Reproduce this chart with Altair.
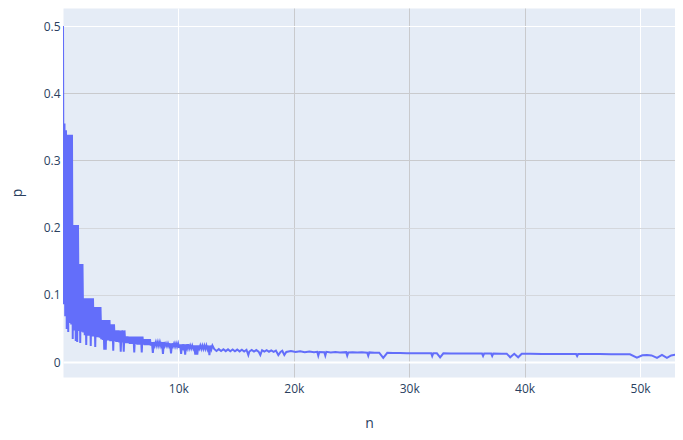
import altair as alt
import pandas as pd

# ---- data ----
n_values = [
    2, 65, 130, 195, 260, 325, 390, 455, 520, 585, 650, 715, 780, 845, 910, 975,
    1040, 1105, 1170, 1235, 1300, 1365, 1430, 1495, 1560, 1625, 1690, 1755, 1820,
    1885, 1950, 2015, 2080, 2145, 2210, 2275, 2340, 2405, 2470, 2535, 2600, 2665,
    2730, 2795, 2860, 2925, 2990, 3055, 3120, 3185, 3250, 3315, 3380, 3445, 3510,
    3575, 3640, 3705, 3770, 3835, 3900, 3965, 4030, 4095, 4160, 4225, 4290, 4355,
    4420, 4485, 4550, 4615, 4680, 4745, 4810, 4875, 4940, 5005, 5070, 5135, 5200,
    5265, 5330, 5395, 5460, 5525, 5590, 5655, 5720, 5785, 5850, 5915, 5980, 6045,
    6110, 6175, 6240, 6305, 6370, 6435, 6500, 6565, 6630, 6695, 6760, 6825, 6890,
    6955, 7020, 7085, 7150, 7215, 7280, 7345, 7410, 7475, 7540, 7605, 7700, 7787,
    7875, 7962, 8050, 8137, 8225, 8312, 8400, 8487, 8575, 8662, 8750, 8837, 8925,
    9012, 9100, 9187, 9275, 9362, 9450, 9537, 9625, 9712, 9800, 9887, 9975, 10062,
    10150, 10237, 10325, 10412, 10500, 10587, 10675, 10762, 10850, 10937, 11025,
    11112, 11200, 11287, 11375, 11462, 11550, 11637, 11725, 11812, 11900, 11987,
    12075, 12162, 12250, 12337, 12425, 12512, 12600, 12687, 12775, 12862, 12950,
    13100, 13300, 13500, 13700, 13900, 14100, 14300, 14500, 14700, 14900, 15100,
    15300, 15500, 15700, 15900, 16060, 16150, 16350, 16550, 16750, 16950, 17100,
    17250, 17450, 17650, 17850, 18050, 18250, 18450, 18660, 18850, 19000, 19180,
    19350, 19750, 20150, 20550, 20950, 21350, 21750, 22030, 22120, 22210, 22640,
    22730, 22820, 23200, 23600, 24000, 24540, 24630, 24720, 25100, 25500, 25900,
    26360, 26450, 26540, 27000, 27400, 27750, 28100, 28600, 29200, 29800, 30500,
    31200, 31900, 31990, 32080, 32400, 32680, 32960, 33600, 34300, 35000, 35700,
    36310, 36400, 36490, 37100, 37190, 37280, 38000, 38450, 38750, 39100, 39440,
    39750, 40500, 41500, 42500, 43500, 44460, 44550, 44640, 45500, 46500, 47500,
    48500, 49130, 49730, 50200, 50600, 51000, 51470, 51900, 52330, 52700, 53020,
    53400, 53700,
]
p_values = [
    0.5, 0.086, 0.355, 0.068, 0.345, 0.049, 0.338, 0.0446, 0.338, 0.058, 0.338,
    0.056, 0.338, 0.0342, 0.204, 0.047, 0.204, 0.0312, 0.204, 0.0298, 0.204,
    0.046, 0.146, 0.0283, 0.146, 0.045, 0.146, 0.044, 0.095, 0.040, 0.095,
    0.0253, 0.095, 0.039, 0.095, 0.039, 0.095, 0.0238, 0.095, 0.038, 0.095,
    0.038, 0.082, 0.0223, 0.082, 0.037, 0.082, 0.037, 0.082, 0.036, 0.082,
    0.034, 0.0625, 0.033, 0.0625, 0.0183, 0.0625, 0.0183, 0.0625, 0.032, 0.0625,
    0.032, 0.0625, 0.031, 0.056, 0.031, 0.056, 0.0168, 0.056, 0.031, 0.047,
    0.030, 0.047, 0.030, 0.047, 0.029, 0.047, 0.0153, 0.047, 0.029, 0.047,
    0.0153, 0.047, 0.028, 0.038, 0.028, 0.038, 0.028, 0.038, 0.027, 0.038,
    0.027, 0.038, 0.027, 0.038, 0.0144, 0.038, 0.027, 0.038, 0.026, 0.038,
    0.026, 0.038, 0.026, 0.038, 0.0144, 0.038, 0.026, 0.034, 0.025, 0.034,
    0.025, 0.034, 0.025, 0.034, 0.025, 0.034, 0.0245, 0.0298, 0.0134, 0.0298,
    0.0245, 0.0298, 0.024, 0.0298, 0.024, 0.0298, 0.024, 0.0298, 0.0119, 0.0298,
    0.024, 0.0278, 0.0235, 0.0278, 0.0235, 0.0278, 0.013, 0.0278, 0.0235, 0.0278,
    0.023, 0.0278, 0.023, 0.0278, 0.021, 0.0263, 0.012, 0.0263, 0.021, 0.0263,
    0.011, 0.0263, 0.0205, 0.0263, 0.020, 0.0246, 0.020, 0.0246, 0.020, 0.0246,
    0.011, 0.0246, 0.011, 0.0246, 0.020, 0.0246, 0.0195, 0.0246, 0.0195, 0.0246,
    0.0195, 0.0246, 0.019, 0.0246, 0.0104, 0.0246, 0.019, 0.0246,
    0.0195, 0.0165, 0.0192, 0.0163, 0.0190, 0.0162, 0.0188, 0.0160, 0.0187,
    0.0159, 0.0185, 0.0158, 0.0183, 0.0157, 0.0182, 0.0104, 0.0156, 0.0180,
    0.0155, 0.0178, 0.0155, 0.0104, 0.0176, 0.0154, 0.0175, 0.0153, 0.0173,
    0.0152, 0.0171, 0.0104, 0.0151, 0.0168, 0.0104, 0.0150, 0.0163, 0.0148,
    0.0160, 0.0146, 0.0157, 0.0145, 0.0152, 0.0094, 0.0150, 0.0145, 0.0094,
    0.0152, 0.0143, 0.0150, 0.0142, 0.0147, 0.0094, 0.0141, 0.0147, 0.0140,
    0.0145, 0.0139, 0.0094, 0.0143, 0.0137, 0.0138, 0.0060, 0.0136, 0.0133,
    0.0135, 0.0131, 0.0132, 0.0129, 0.0131, 0.0089, 0.0130, 0.0129, 0.0070,
    0.0129, 0.0128, 0.0127, 0.0127, 0.0126, 0.0125, 0.0089, 0.0125, 0.0125,
    0.0089, 0.0125, 0.0124, 0.0124, 0.0070, 0.0123, 0.0070, 0.0123, 0.0122,
    0.0121, 0.0121, 0.0120, 0.0119, 0.0089, 0.0119, 0.0118, 0.0118, 0.0117,
    0.0116, 0.0115, 0.0065, 0.0100, 0.0105, 0.0098, 0.0062, 0.0105, 0.0062,
    0.0098, 0.0108, 0.0104, 0.0095,
]

x_ticks = [10000, 20000, 30000, 40000, 50000]
y_ticks = [0, 0.1, 0.2, 0.3, 0.4, 0.5]
x_domain = [2, 53030]
y_domain = [-0.0223, 0.5268]

df = pd.DataFrame({"n": n_values, "p": p_values})

FONT = "Open Sans"
TXT = "#2a3f5f"

x_axis = alt.Axis(
    values=x_ticks,
    labelExpr="datum.value / 1000 + 'k'",
    title="n",
    domain=False,
    ticks=False,
    grid=True,
    gridColor={
        "condition": {"test": "datum.value > 15000 && datum.value < 45000", "value": "#c9cacd"},
        "value": "#ffffff",
    },
    gridWidth=1,
    labelPadding=6,
    labelFlush=False,
    labelFont=FONT,
    labelFontSize=12,
    labelColor=TXT,
    titleFont=FONT,
    titleFontSize=14,
    titleFontWeight="normal",
    titleColor=TXT,
    titleX=306,
    titleY=50,
    titleBaseline="alphabetic",
)

y_axis = alt.Axis(
    values=y_ticks,
    labelExpr="datum.value == 0 ? '0' : format(datum.value, '.1f')",
    title="p",
    domain=False,
    ticks=False,
    grid=True,
    gridColor={
        "condition": [
            {"test": "datum.value > 0.25 && datum.value < 0.45", "value": "#c9cacd"},
            {"test": "datum.value > 0.05 && datum.value < 0.25", "value": "#d4d7dc"},
        ],
        "value": "#ffffff",
    },
    gridWidth={
        "condition": {"test": "datum.value == 0", "value": 2},
        "value": 1,
    },
    labelPadding=3,
    labelFlush=False,
    labelFont=FONT,
    labelFontSize=12,
    labelColor=TXT,
    titleFont=FONT,
    titleFontSize=14,
    titleFontWeight="normal",
    titleColor=TXT,
    titleAngle=270,
    titleX=-42,
    titleY=184.5,
    titleBaseline="alphabetic",
)

chart = (
    alt.Chart(df)
    .mark_line(color="#636efa", strokeWidth=2, clip=True)
    .encode(
        x=alt.X("n:Q", scale=alt.Scale(domain=x_domain, nice=False, zero=False), axis=x_axis),
        y=alt.Y("p:Q", scale=alt.Scale(domain=y_domain, nice=False, zero=False), axis=y_axis),
    )
    .properties(
        width=612,
        height=369,
        autosize=alt.AutoSizeParams(type="none"),
        padding={"left": 55, "top": 0, "right": 0, "bottom": 55},
        background="#ffffff",
    )
    .configure_view(fill="#e5ecf6", stroke="transparent")
)

chart.save("out.html", embed_options={"renderer": "svg", "actions": False})
